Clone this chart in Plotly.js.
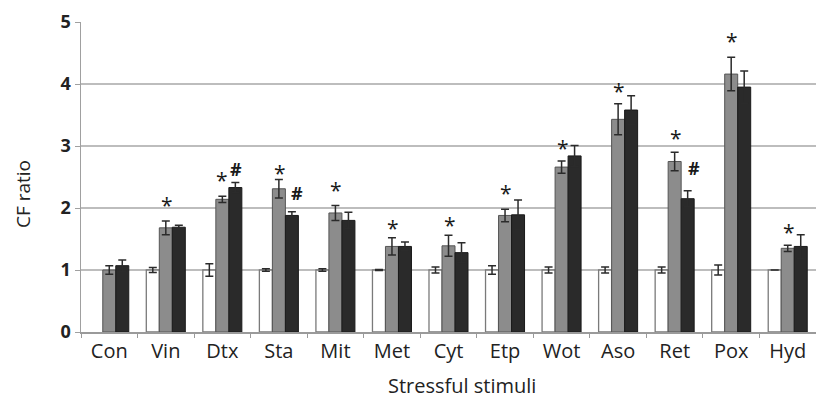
<!DOCTYPE html>
<html>
<head>
<meta charset="utf-8">
<script src="https://cdn.plot.ly/plotly-3.0.1.min.js"></script>
<style>html,body{margin:0;padding:0;background:#fff;}#chart{width:816px;height:401px;}</style>
</head>
<body>
<div id="chart"></div>
<script>
var categories = ["Con","Vin","Dtx","Sta","Mit","Met","Cyt","Etp","Wot","Aso","Ret","Pox","Hyd"];
var whiteVals = [null,1.00,1.00,1.00,1.00,1.00,1.00,1.00,1.00,1.00,1.00,1.00,1.00];
var whiteErr  = [0,0.04,0.10,0.02,0.02,0.01,0.05,0.07,0.05,0.05,0.05,0.08,0];
var grayVals  = [1.00,1.68,2.14,2.31,1.92,1.38,1.39,1.88,2.66,3.43,2.75,4.16,1.35];
var grayErr   = [0.07,0.11,0.05,0.15,0.12,0.14,0.17,0.10,0.10,0.25,0.15,0.27,0.05];
var blackVals = [1.07,1.69,2.33,1.88,1.80,1.38,1.28,1.89,2.84,3.58,2.15,3.95,1.38];
var blackErr  = [0.09,0.03,0.08,0.06,0.13,0.07,0.16,0.24,0.17,0.23,0.13,0.26,0.19];
// significance marks
var starCats  = ["Vin","Dtx","Sta","Mit","Met","Cyt","Etp","Wot","Aso","Ret","Pox","Hyd"];
var hashCats  = ["Dtx","Sta","Ret"];

var errStyle = {type:'data', visible:true, color:'#2b2b2b', thickness:1.5, width:4};

var traces = [
  {type:'bar', name:'white', x:categories, y:whiteVals,
   error_y:Object.assign({array:whiteErr}, errStyle),
   marker:{color:'#ffffff', line:{color:'#7a7a7a', width:1.3}}},
  {type:'bar', name:'gray', x:categories, y:grayVals,
   error_y:Object.assign({array:grayErr}, errStyle),
   marker:{color:'#8c8c8c', line:{color:'#555555', width:1}}},
  {type:'bar', name:'black', x:categories, y:blackVals,
   error_y:Object.assign({array:blackErr}, errStyle),
   marker:{color:'#2a2a2a', line:{color:'#1a1a1a', width:1}}}
];

var annotations = [];
var starShift = {Sta:-10, Met:-6, Cyt:-6, Wot:-3, Aso:-3, Ret:-2, Hyd:-3};
starCats.forEach(function(c){
  var i = categories.indexOf(c);
  annotations.push({x:c, y:grayVals[i]+grayErr[i], xref:'x', yref:'y', text:'*',
    showarrow:false, yanchor:'bottom', xanchor:'center', xshift:(c==='Dtx'?0:1),
    yshift:(starShift[c]||0),
    font:{family:'Open Sans, sans-serif', size:21, color:'#1a1a1a'}});
});
var hashShift = {Dtx:[14,0], Sta:[18,5], Ret:[19,9]};
hashCats.forEach(function(c){
  var i = categories.indexOf(c);
  annotations.push({x:c, y:blackVals[i]+blackErr[i], xref:'x', yref:'y', text:'#',
    showarrow:false, yanchor:'bottom', xanchor:'center',
    xshift:hashShift[c][0], yshift:hashShift[c][1],
    font:{family:'Open Sans, sans-serif', size:18, color:'#1a1a1a', weight:'bold'}});
});
annotations.push({xref:'paper', yref:'paper', x:0.518, y:-0.172, xanchor:'center', yanchor:'middle',
  text:'Stressful stimuli', showarrow:false,
  font:{family:'Open Sans, sans-serif', size:20, color:'#222'}});
annotations.push({xref:'paper', yref:'paper', x:-0.079, y:0.445, xanchor:'center', yanchor:'middle',
  text:'CF ratio', textangle:-90, showarrow:false,
  font:{family:'Open Sans, sans-serif', size:19, color:'#222'}});

var layout = {
  width:816, height:401,
  margin:{l:81, r:0, t:22, b:69, pad:0},
  paper_bgcolor:'#ffffff', plot_bgcolor:'#ffffff',
  showlegend:false,
  barmode:'group', bargap:0.31, bargroupgap:0,
  xaxis:{type:'category', showgrid:false, zeroline:false,
    showline:true, linecolor:'#9a9a9a', linewidth:1.5,
    ticks:'outside', tickson:'boundaries', ticklen:4, tickcolor:'#9a9a9a',
    tickfont:{family:'Open Sans, sans-serif', size:20, color:'#222'}},
  yaxis:{range:[0,5], tickvals:[0,1,2,3,4,5], showgrid:true, gridcolor:'#bdbdbd', gridwidth:1.5,
    zeroline:false, showline:true, linecolor:'#a0a0a0', linewidth:1.5,
    ticks:'outside', ticklen:5, tickcolor:'#a0a0a0',
    tickfont:{family:'Open Sans, sans-serif', size:18, color:'#222', weight:'bold'}},
  annotations:annotations,
  font:{family:'Open Sans, sans-serif'}
};

Plotly.newPlot('chart', traces, layout, {staticPlot:true, displayModeBar:false});
</script>
</body>
</html>
